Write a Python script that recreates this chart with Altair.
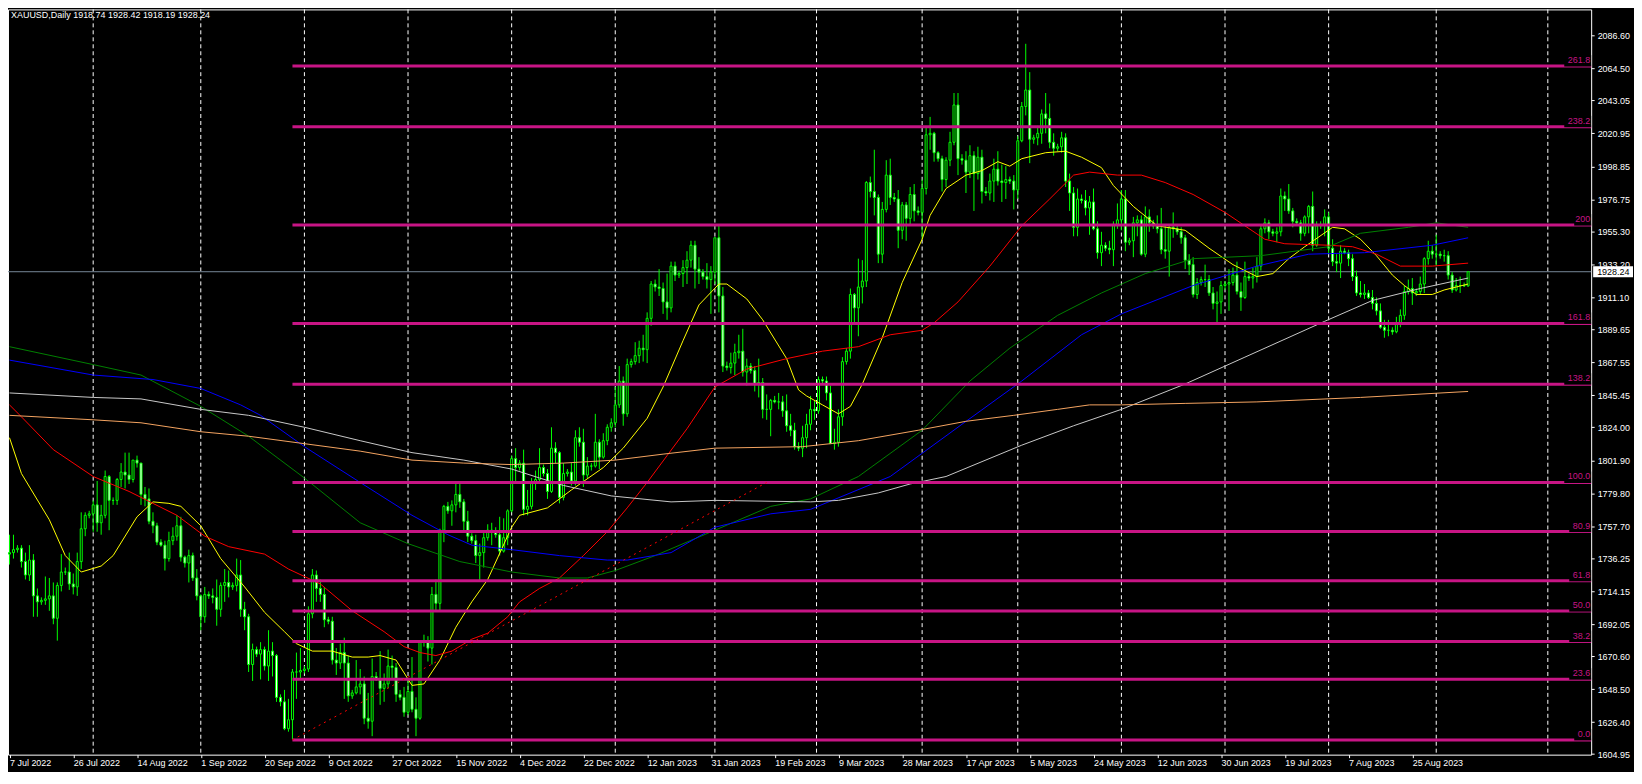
import json
import altair as alt
import pandas as pd

# ---------------- data ----------------
symbol = "XAUUSD,Daily"

opens = [
 1739,1740,1742,1743,1734,1725, 1735,1711,1707,1708,1709,1711, 1696,1718,1727,1727,1719,1717,
 1734,1756,1765,1766,1772,1760, 1765,1791,1775,1775,1789,1794, 1792,1789,1802,1800,1779,1776,
 1761,1758,1747,1745,1736,1748, 1751,1758,1737,1733,1738,1723, 1711,1697,1712,1711,1710,1702,
 1718,1720,1717,1718,1725,1702, 1697,1665,1675,1672,1675,1664, 1674,1671,1643,1640,1622,1628,
 1660,1660,1661,1662,1699,1725, 1716,1712,1695,1694,1668,1666, 1673,1666,1644,1646,1650,1652,
 1629,1627,1657,1655,1649,1652, 1664,1663,1645,1643,1633,1647, 1635,1629,1681,1680,1676,1712,
 1706,1755,1771,1768,1772,1779, 1774,1761,1751,1748,1738,1740, 1750,1755,1754,1752,1741,1750,
 1768,1803,1797,1800,1769,1771, 1787,1789,1797,1793,1781,1810, 1807,1777,1793,1794,1788,1817,
 1814,1792,1798,1798,1814,1804, 1815,1824,1827,1839,1855,1833, 1866,1868,1872,1877,1876,1897,
 1920,1918,1917,1908,1904,1932, 1926,1927,1931,1936,1946,1930, 1928,1925,1923,1928,1951,1912,
 1865,1864,1867,1874,1875,1861, 1865,1862,1853,1854,1836,1836, 1842,1841,1841,1835,1825,1822,
 1811,1810,1817,1826,1836,1835, 1856,1855,1847,1813,1814,1831, 1868,1875,1913,1904,1918,1922,
 1988,1982,1978,1940,1970,1993, 1978,1977,1956,1973,1964,1980, 1969,1968,1984,2020,2021,2008,
 2004,1990,2003,2015,2040,2004, 2003,1995,2006,1994,2005,1982, 1981,1989,1997,1989,1988,1990,
 1989,1983,2016,2039,2050,2017, 2018,2021,2034,2031,2015,2011, 2012,2018,1989,1981,1958,1977,
 1976,1971,1975,1957,1941,1946, 1944,1943,1960,1963,1977,1948, 1949,1961,1963,1940,1965,1961,
 1959,1957,1943,1942,1958,1957, 1955,1951,1936,1933,1913,1921, 1923,1923,1914,1907,1908,1919,
 1920,1921,1926,1915,1911,1925, 1924,1925,1932,1957,1961,1955, 1954,1955,1979,1977,1969,1962,
 1961,1954,1965,1972,1946,1959, 1960,1965,1944,1935,1934,1942, 1941,1937,1925,1914,1913,1914,
 1911,1907,1902,1891,1889,1889, 1888,1894,1899,1915,1917,1914, 1915,1920,1937,1942,1940,1940,
 1939,1939,1926,1916,1919,1919, 1918.74]
highs = [
 1752,1752,1745,1745,1740,1745, 1739,1716,1710,1724,1723,1720, 1720,1739,1730,1740,1726,1740,
 1767,1767,1768,1775,1788,1772, 1795,1792,1777,1790,1800,1807, 1807,1802,1805,1800,1784,1783,
 1767,1760,1749,1748,1754,1757, 1765,1764,1738,1742,1740,1729, 1712,1717,1714,1716,1722,1720,
 1729,1728,1720,1736,1735,1707, 1699,1679,1677,1680,1677,1688, 1680,1672,1645,1648,1642,1662,
 1673,1676,1664,1704,1729,1728, 1722,1717,1697,1697,1676,1679, 1683,1671,1648,1668,1662,1657,
 1646,1669,1660,1674,1659,1675, 1671,1666,1648,1650,1655,1670, 1643,1681,1685,1684,1717,1722,
 1756,1772,1774,1775,1787,1786, 1776,1768,1753,1752,1746,1755, 1759,1760,1757,1764,1763,1769,
 1805,1810,1802,1809,1782,1790, 1795,1810,1799,1796,1824,1814, 1808,1800,1796,1800,1822,1824,
 1823,1804,1800,1833,1816,1820, 1826,1830,1851,1865,1858,1870, 1870,1881,1882,1886,1901,1922,
 1923,1930,1921,1927,1935,1935, 1929,1936,1942,1949,1949,1938, 1930,1934,1932,1951,1960,1918,
 1868,1874,1880,1886,1890,1870, 1867,1865,1870,1857,1846,1843, 1845,1847,1845,1846,1833,1827,
 1814,1825,1833,1845,1842,1858, 1858,1858,1852,1823,1836,1871, 1877,1917,1914,1937,1936,1989,
 1992,2010,1980,1975,2003,2004, 1981,1983,1975,1975,1985,1987, 1972,1990,2025,2032,2022,2009,
 2006,2005,2022,2048,2048,2007, 2009,2013,2009,2012,2010,1985, 1994,2004,2009,2000,1999,1992,
 1993,2019,2042,2081,2062,2020, 2026,2037,2048,2041,2021,2014, 2022,2021,1994,1985,1984,1980,
 1983,1979,1984,1962,1955,1948, 1949,1962,1974,1983,1983,1951, 1965,1966,1966,1972,1970,1963,
 1966,1971,1960,1959,1968,1959, 1958,1953,1940,1938,1924,1925, 1933,1926,1918,1915,1922,1922,
 1930,1931,1935,1921,1935,1927, 1931,1938,1960,1964,1963,1957, 1958,1984,1982,1987,1971,1964,
 1963,1966,1973,1982,1962,1962, 1970,1968,1950,1940,1946,1944, 1943,1940,1929,1922,1920,1916,
 1916,1911,1907,1896,1896,1891, 1898,1903,1919,1923,1924,1917, 1925,1938,1949,1946,1953,1942,
 1943,1942,1928,1924,1925,1921, 1928.42]
lows = [
 1732,1736,1740,1730,1722,1721, 1697,1697,1705,1705,1701,1692, 1681,1714,1725,1715,1712,1711,
 1729,1751,1763,1754,1754,1752, 1763,1755,1772,1772,1784,1783, 1786,1787,1797,1772,1771,1759,
 1753,1745,1744,1728,1734,1745, 1748,1734,1730,1720,1721,1708, 1688,1693,1709,1706,1691,1697,
 1707,1710,1715,1714,1697,1688, 1660,1654,1670,1655,1661,1654, 1657,1640,1637,1621,1620,1615,
 1642,1655,1659,1660,1696,1707, 1707,1690,1692,1665,1658,1662, 1642,1640,1642,1645,1645,1625,
 1622,1617,1654,1638,1640,1649, 1655,1640,1641,1630,1631,1633, 1617,1628,1677,1667,1665,1701,
 1701,1747,1766,1758,1767,1770, 1755,1747,1746,1733,1721,1730, 1748,1745,1750,1738,1740,1745,
 1767,1787,1795,1765,1765,1769, 1782,1787,1791,1776,1780,1800, 1773,1775,1791,1785,1785,1811,
 1784,1790,1795,1797,1796,1803, 1812,1821,1824,1837,1825,1831, 1864,1866,1867,1868,1867,1892,
 1915,1912,1900,1896,1901,1922, 1924,1918,1920,1931,1917,1920, 1923,1917,1900,1920,1901,1861,
 1862,1860,1859,1870,1858,1852, 1860,1848,1844,1830,1829,1818, 1840,1836,1831,1821,1818,1809,
 1808,1804,1810,1822,1829,1833, 1853,1842,1813,1809,1811,1825, 1866,1870,1894,1885,1907,1918,
 1978,1966,1934,1934,1968,1973, 1975,1944,1950,1949,1960,1962, 1966,1950,1980,2010,2002,2002,
 1982,1985,1999,2013,1993,2000, 1981,1991,1969,1990,1974,1979, 1976,1975,1986,1975,1977,1987,
 1970,1977,2015,2033,2001,2014, 2013,2014,2021,2011,2006,2009, 2008,1985,1969,1952,1952,1974,
 1966,1953,1956,1937,1932,1942, 1940,1932,1957,1956,1942,1946, 1938,1952,1939,1938,1955,1957,
 1954,1940,1937,1925,1951,1953, 1947,1930,1926,1911,1910,1919, 1918,1912,1903,1893,1900,1916,
 1902,1919,1913,1902,1910,1922, 1917,1921,1929,1954,1950,1952, 1948,1952,1969,1967,1958,1959,
 1949,1952,1954,1942,1945,1957, 1952,1940,1932,1928,1924,1940, 1932,1922,1912,1911,1910,1910,
 1903,1899,1890,1884,1885,1886, 1887,1891,1896,1913,1906,1912, 1913,1914,1933,1937,1932,1937,
 1935,1923,1914,1915,1914,1918, 1918.19]
closes = [
 1740,1742,1743,1734,1725,1735, 1711,1707,1708,1709,1711,1696, 1718,1727,1727,1719,1717,1734,
 1756,1765,1766,1772,1760,1765, 1791,1775,1775,1789,1794,1792, 1789,1802,1800,1779,1776,1761,
 1758,1747,1745,1736,1748,1751, 1758,1737,1733,1738,1723,1711, 1697,1712,1711,1710,1702,1718,
 1720,1717,1718,1725,1702,1697, 1665,1675,1672,1675,1664,1674, 1671,1643,1640,1622,1628,1660,
 1660,1661,1662,1699,1725,1716, 1712,1695,1694,1668,1666,1673, 1666,1644,1646,1650,1652,1629,
 1627,1657,1655,1649,1652,1664, 1663,1645,1643,1633,1647,1635, 1629,1681,1680,1676,1712,1706,
 1755,1771,1768,1772,1779,1774, 1761,1751,1748,1738,1740,1750, 1755,1754,1752,1741,1750,1768,
 1803,1797,1800,1769,1771,1787, 1789,1797,1793,1781,1810,1807, 1777,1793,1794,1788,1817,1814,
 1792,1798,1798,1814,1804,1815, 1824,1827,1839,1855,1833,1866, 1868,1872,1877,1876,1897,1920,
 1918,1917,1908,1904,1932,1926, 1927,1931,1936,1946,1930,1928, 1925,1923,1928,1951,1912,1865,
 1864,1867,1874,1875,1861,1865, 1862,1853,1854,1836,1836,1842, 1841,1841,1835,1825,1822,1811,
 1810,1817,1826,1836,1835,1856, 1855,1847,1813,1814,1831,1868, 1875,1913,1904,1918,1922,1988,
 1982,1978,1940,1970,1993,1978, 1977,1956,1973,1964,1980,1969, 1968,1984,2020,2021,2008,2004,
 1990,2003,2015,2040,2004,2003, 1995,2006,1994,2005,1982,1981, 1989,1997,1989,1988,1990,1989,
 1983,2016,2039,2050,2017,2018, 2021,2034,2031,2015,2011,2012, 2018,1989,1981,1958,1977,1976,
 1971,1975,1957,1941,1946,1944, 1943,1960,1963,1977,1948,1949, 1961,1963,1940,1965,1961,1959,
 1957,1943,1942,1958,1957,1955, 1951,1936,1933,1913,1921,1923, 1923,1914,1907,1908,1919,1920,
 1921,1926,1915,1911,1925,1924, 1925,1932,1957,1961,1955,1954, 1955,1979,1977,1969,1962,1961,
 1954,1965,1972,1946,1959,1960, 1965,1944,1935,1934,1942,1941, 1937,1925,1914,1913,1914,1911,
 1907,1902,1891,1889,1889,1888, 1894,1899,1915,1917,1914,1915, 1920,1937,1942,1940,1940,1939,
 1939,1926,1916,1919,1919,1918.74, 1928.24]

# moving averages (bar index, price)
ma_yellow_idx = [0,3,10,14,18,23,26,32,36,40,43,48,53,59,64,69,72,76,81,86,90,93,97,101,104,108,112,116,120,126,
                 128,135,141,149,154,160,164,169,173,178,180,185,189,195,198,200,204,208,211,214,219,224,229,231,
                 235,240,244,248,251,254,260,265,269,274,277,282,288,295,301,307,313,317,321,325,332,335,339,343,
                 347,350,353,357,360,366]
ma_yellow_val = [1817,1793,1762,1738,1727,1731,1738,1764,1774,1773,1771,1758,1736,1717,1700,1687,1679,1674,1674,1670,
                 1670,1671,1668,1651,1652,1668,1690,1707,1722,1757,1765,1770,1782,1797,1810,1830,1851,1882,1906,1920,
                 1920,1910,1896,1870,1849,1845,1839,1833,1838,1853,1884,1921,1950,1966,1984,1993,1996,2002,1999,2004,
                 2008,2009,2005,1998,1986,1972,1959,1956,1944,1933,1925,1927,1937,1945,1958,1957,1950,1939,1926,1919,
                 1913,1913,1916,1920]
ma_red_idx = [0,3,11,21,30,36,42,49,55,64,70,78,86,94,99,103,107,111,116,120,125,128,133,138,144,150,155,160,165,170,
              177,185,195,204,213,221,229,232,238,246,254,261,267,271,278,284,290,297,305,310,315,320,331,337,343,349,
              357,366]
ma_red_val = [1839,1831,1809,1791,1781,1773,1765,1751,1744,1739,1729,1719,1701,1687,1677,1673,1671,1674,1682,1686,
              1697,1707,1716,1723,1738,1754,1770,1787,1805,1823,1851,1863,1870,1875,1878,1886,1889,1894,1908,1932,
              1959,1977,1993,1995,1993,1993,1988,1980,1968,1959,1950,1947,1946,1945,1940,1932,1932,1934]
ma_green_idx = [0,21,33,48,60,74,88,100,113,126,138,145,152,162,177,191,201,213,229,241,251,263,274,285,297,314,331,
                339,351,358,366]
ma_green_val = [1878,1866,1859,1838,1818,1790,1760,1746,1734,1727,1723,1723,1728,1738,1755,1771,1776,1791,1822,1855,
                1877,1899,1914,1927,1937,1939,1945,1954,1958,1961,1958]
ma_blue_idx = [0,21,36,48,58,63,74,88,101,110,116,126,138,150,155,166,177,191,201,221,239,254,269,279,297,313,326,340,
               357,366]
ma_blue_val = [1869,1859,1856,1850,1839,1832,1811,1787,1765,1752,1745,1742,1738,1735,1735,1740,1757,1766,1769,1791,
               1826,1855,1886,1900,1919,1932,1940,1941,1946,1951]
ma_silver_idx = [0,21,33,48,60,74,88,101,114,126,133,139,151,166,177,201,208,218,226,235,254,267,279,295,310,330,342,
                 354,366]
ma_silver_val = [1847,1844,1843,1836,1832,1824,1815,1807,1802,1796,1790,1785,1778,1774,1775,1774,1775,1780,1786,1791,
                 1812,1825,1836,1853,1871,1895,1909,1917,1924]
ma_orange_idx = [0,21,33,48,60,74,88,101,114,126,139,152,164,177,199,213,228,240,252,263,271,279,295,313,339,366]
ma_orange_val = [1832,1829,1827,1821,1818,1813,1808,1802,1800,1799,1800,1802,1806,1810,1811,1815,1822,1828,1832,1836,
                 1839,1839,1840,1841,1844,1848]

# Fibonacci object
fib_labels = ["0.0", "23.6", "38.2", "50.0", "61.8", "80.9", "100.0", "138.2", "161.8", "200", "238.2", "261.8"]
fib_prices = [1614.5, 1655.2, 1680.4, 1700.8, 1721.1, 1754.1, 1787.0, 1852.9, 1893.6, 1959.5, 2025.4, 2066.1]
fib_start_idx = 71
trend_idx = [71, 190]
trend_price = [1614.5, 1787.0]

# axes
price_ticks = [2086.60, 2064.50, 2043.05, 2020.95, 1998.85, 1976.75, 1955.30, 1933.20, 1911.10, 1889.65, 1867.55,
               1845.45, 1824.00, 1801.90, 1779.80, 1757.70, 1736.25, 1714.15, 1692.05, 1670.60, 1648.50, 1626.40,
               1604.95]
date_labels = ["7 Jul 2022", "26 Jul 2022", "14 Aug 2022", "1 Sep 2022", "20 Sep 2022", "9 Oct 2022", "27 Oct 2022",
               "15 Nov 2022", "4 Dec 2022", "22 Dec 2022", "12 Jan 2023", "31 Jan 2023", "19 Feb 2023", "9 Mar 2023",
               "28 Mar 2023", "17 Apr 2023", "5 May 2023", "24 May 2023", "12 Jun 2023", "30 Jun 2023", "19 Jul 2023",
               "7 Aug 2023", "25 Aug 2023"]
date_label_idx = [0, 16, 32, 48, 64, 80, 96, 112, 128, 144, 160, 176, 192, 208, 224, 240, 256, 272, 288, 304, 320,
                  336, 352]
month_grid_idx = [21, 48, 74, 100, 126, 152, 177, 202.5, 229, 253, 279, 305, 331, 358, 386]

# ---------------- layout ----------------
W = 1589
H = 748
BAR_PX = 4
x_dom = [-0.375, -0.375 + W / BAR_PX]
y_dom = [1604.6, 2104.04]
FONT = "Liberation Sans"
FIB_C = "#C71585"

xs = alt.Scale(domain=x_dom, nice=False, zero=False)
ys = alt.Scale(domain=y_dom, nice=False, zero=False)

label_expr = f"{json.dumps(date_labels)}[indexof({json.dumps(date_label_idx)}, datum.value)]"
x_axis = alt.Axis(values=date_label_idx, labelExpr=label_expr, orient="bottom", grid=False, domain=False,
                  ticks=True, tickColor="white", tickSize=3, labelColor="white", labelFont=FONT, labelFontSize=9,
                  labelAlign="left", labelBaseline="top", labelPadding=1, labelOverlap=False, labelFlush=False,
                  title=None)
y_axis = alt.Axis(values=price_ticks, format=".2f", orient="right", grid=False, domain=False, ticks=True,
                  tickColor="white", tickSize=3, labelColor="white", labelFont=FONT, labelFontSize=9,
                  labelPadding=3, labelOverlap=False, labelFlush=False, title=None)


def X(field):
    return alt.X(field, type="quantitative", scale=xs, axis=x_axis)


def Y(field):
    return alt.Y(field, type="quantitative", scale=ys, axis=y_axis)


n = len(closes)
bars = pd.DataFrame({"i": list(range(n)), "o": opens, "h": highs, "l": lows, "c": closes})
bars["x0"] = bars["i"] - 0.25
bars["x1"] = bars["i"] + 0.25
bars["fillc"] = ["black" if c > o else "white" for o, c in zip(opens, closes)]

grid_df = pd.DataFrame({"g": month_grid_idx})
last_df = pd.DataFrame({"p": [closes[-1]], "lab": [f"{closes[-1]:.2f}"]})

ma_specs = [("MA1", ma_yellow_idx, ma_yellow_val), ("MA2", ma_red_idx, ma_red_val),
            ("MA3", ma_green_idx, ma_green_val), ("MA4", ma_blue_idx, ma_blue_val),
            ("MA5", ma_silver_idx, ma_silver_val), ("MA6", ma_orange_idx, ma_orange_val)]
ma_rows = []
for name, idxs, vals in ma_specs:
    for a, b in zip(idxs, vals):
        ma_rows.append({"ma": name, "i": a, "v": b})
ma_df = pd.DataFrame(ma_rows)
ma_names = [s[0] for s in ma_specs]
ma_colors = ["#FFFF00", "#FF0000", "#008000", "#0000FF", "#C8C8C8", "#F4A460"]

fib_df = pd.DataFrame({"p": fib_prices, "lab": fib_labels})
fib_df["x0"] = fib_start_idx
fib_df["bx0"] = x_dom[1] - (fib_df["lab"].str.len() * 5 + 2) / BAR_PX
fib_df["bx1"] = x_dom[1]
trend_df = pd.DataFrame({"i": trend_idx, "p": trend_price})
head_df = pd.DataFrame({"t": [f"{symbol}  {opens[-1]:.2f} {highs[-1]:.2f} {lows[-1]:.2f} {closes[-1]:.2f}"]})

# ---------------- layers ----------------
grid = alt.Chart(grid_df).mark_rule(color="white", strokeWidth=1, strokeDash=[4, 3]).encode(x=X("g"))

last_line = alt.Chart(last_df).mark_rule(color="#778899", strokeWidth=1).encode(y=Y("p"))

wicks = alt.Chart(bars).mark_rule(color="#00FF00", strokeWidth=1).encode(x=X("i"), y=Y("l"), y2="h:Q")

bodies = alt.Chart(bars).mark_rect(stroke="#00FF00", strokeWidth=1).encode(
    x=X("x0"), x2="x1:Q", y=Y("o"), y2="c:Q", fill=alt.Fill("fillc:N", scale=None))

mas = alt.Chart(ma_df).mark_line(strokeWidth=1).encode(
    x=X("i"), y=Y("v"),
    color=alt.Color("ma:N", scale=alt.Scale(domain=ma_names, range=ma_colors), legend=None),
    detail="ma:N")

fib_lines = alt.Chart(fib_df).mark_rule(color=FIB_C, strokeWidth=3).encode(x=X("x0"), x2=alt.value(W), y=Y("p"))

fib_bg = alt.Chart(fib_df).mark_rect(color="black", yOffset=-11, y2Offset=0.5).encode(
    x=X("bx0"), x2="bx1:Q", y=Y("p"), y2="p:Q")

fib_text = alt.Chart(fib_df).mark_text(align="right", baseline="bottom", dx=-1, dy=-1, color=FIB_C,
                                       font=FONT, fontSize=9).encode(
    x=alt.value(W), y=Y("p"), text="lab:N")

trend = alt.Chart(trend_df).mark_line(color="#FF0000", strokeWidth=1, strokeDash=[2, 4]).encode(x=X("i"), y=Y("p"))

last_box = alt.Chart(last_df).mark_rect(fill="white", yOffset=-5.5, y2Offset=5.5).encode(
    x=alt.value(W + 2), x2=alt.value(W + 42), y=Y("p"), y2="p:Q")
last_text = alt.Chart(last_df).mark_text(align="left", baseline="middle", color="black",
                                         font=FONT, fontSize=9).encode(
    x=alt.value(W + 6), y=Y("p"), text="lab:N")

header = alt.Chart(head_df).mark_text(align="left", baseline="top", color="white", font=FONT, fontSize=9).encode(
    x=alt.value(3), y=alt.value(2), text="t:N")

chart = alt.layer(
    grid, last_line, wicks, bodies, mas, fib_lines, fib_bg, fib_text, trend, last_box, last_text, header
).properties(
    width=W, height=H,
    autosize=alt.AutoSizeParams(type="none"),
    padding={"left": 0, "top": 0, "right": 43, "bottom": 16},
    background="black",
).configure_view(
    fill="black", stroke="white", strokeWidth=1
)

chart.save("out.html", embed_options={"renderer": "svg", "actions": False})
